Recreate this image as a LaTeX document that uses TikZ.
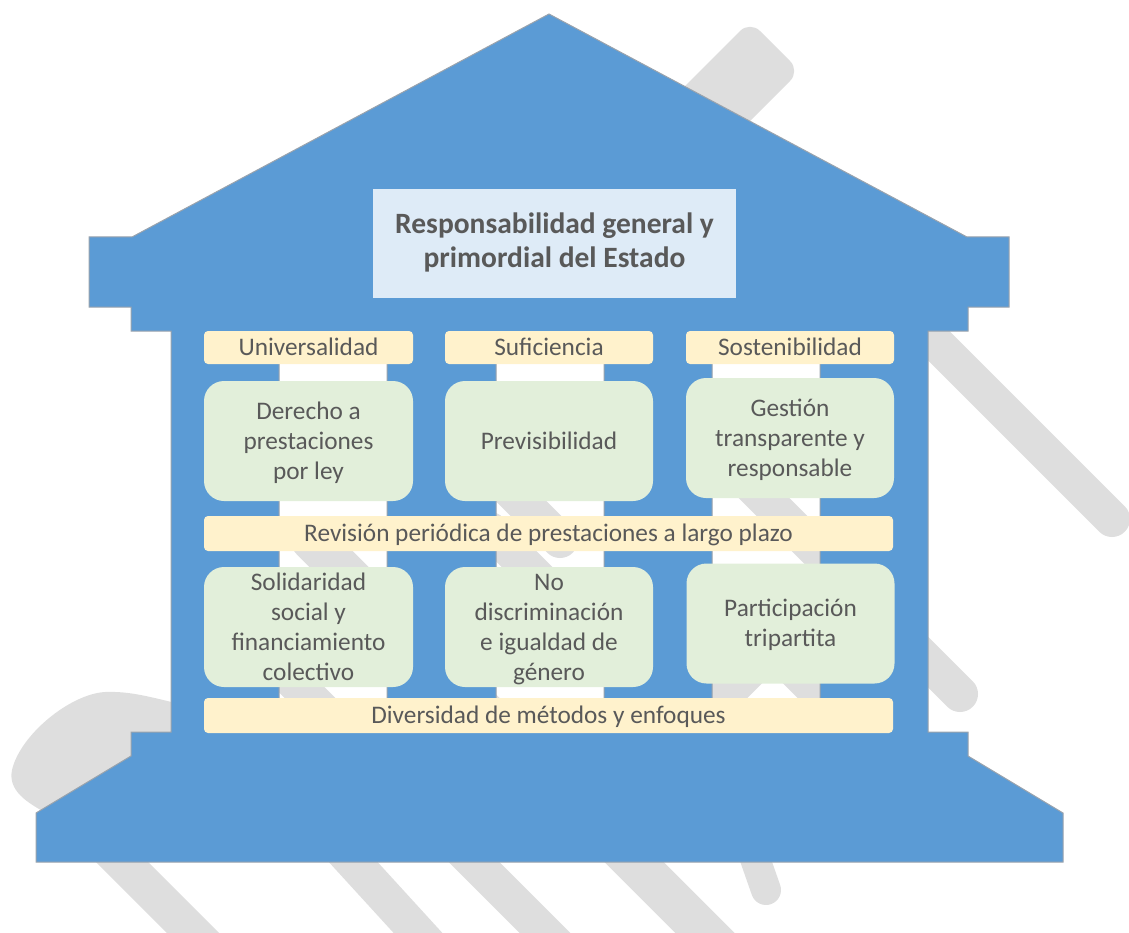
\documentclass[tikz,border=0pt]{standalone}
\usepackage{fontspec}
\setmainfont{Carlito}
\definecolor{bblue}{HTML}{5B9BD5}
\definecolor{bline}{HTML}{9AA3AD}
\definecolor{wmgray}{HTML}{DEDEDE}
\definecolor{ybarc}{HTML}{FFF2CC}
\definecolor{gboxc}{HTML}{E2EFDA}
\definecolor{tboxc}{HTML}{DEEBF7}
\definecolor{txt}{HTML}{595959}
\newcommand\mystrut{\rule[-7pt]{0pt}{30pt}}
\begin{document}
\begin{tikzpicture}[x=1pt,y=-1pt,
  wm/.style={draw=wmgray, line cap=round, line width=36pt},
  ybar/.style={fill=ybarc, rounded corners=4pt, inner sep=0pt, text=txt, font=\fontsize{25.3}{30}\selectfont},
  gbox/.style={fill=gboxc, rounded corners=20pt, inner sep=0pt, align=center, text=txt, font=\fontsize{25.3}{30}\selectfont, minimum height=120pt},
  tbox/.style={fill=tboxc, inner sep=0pt, align=center, text=txt, font=\bfseries\fontsize{29.5}{34}\selectfont}
]
\useasboundingbox (0,0) rectangle (1129,933);
% watermark
\begin{scope}
\clip (0,0) rectangle (1129,933);
\fill[wmgray, rounded corners=14pt] (750,21) -- (800,71) -- (659,212) -- (609,162) -- cycle;
\draw[wm] (880,287) -- (1112,519);
\draw[wm] (700,434) -- (960,694);
\draw[wm, line width=42pt] (312,540) -- (770,998);
\draw[wm] (230,618) -- (600,988);
\draw[wm] (260,760) -- (450,968);
\draw[wm, line width=30pt] (752,850) -- (766,890);
\fill[wmgray] (200,745) -- (180,704) .. controls (150,697) and (130,691) .. (105,692)
  .. controls (70,694) and (20,735) .. (12,770) .. controls (8,790) and (25,802) .. (50,815)
  -- (80,845) -- (140,845) -- cycle;
\draw[wm, line width=37pt] (60,800) -- (300,1040);
\draw[wm] (500,480) -- (560,540);
\draw[wm] (490,530) -- (540,580);
\draw[wm] (700,720) -- (760,660);
\draw[wm] (780,655) -- (840,715);
\end{scope}
% building
\path[fill=bblue, draw=bline, line width=1pt, even odd rule]
  (549,14) -- (967,237) -- (1009,237) -- (1009,307) -- (968,307) -- (968,331) -- (928,331)
  -- (928,732) -- (968,732) -- (968,756) -- (1063,813) -- (1063,862) -- (36,862) -- (36,813)
  -- (131,756) -- (131,732) -- (171,732) -- (171,331) -- (131,331) -- (131,307) -- (89,307)
  -- (89,237) -- (132,237) -- cycle
  (279,350) rectangle (387,720)
  (496,350) rectangle (604,720)
  (712,350) rectangle (820,720);
% title
\node[tbox, minimum width=363pt, minimum height=108pt] (t) at (554.5,243.5) {\strut Responsabilidad general y\\\strut primordial del Estado};
% headers
\node[ybar, minimum width=209pt, minimum height=33pt] (h1) at (308.5,347.5) {\mystrut Universalidad};
\node[ybar, minimum width=208pt, minimum height=33pt] (h2) at (549,347.5) {\mystrut Suficiencia};
\node[ybar, minimum width=208pt, minimum height=33pt] (h3) at (790,347.5) {\mystrut Sostenibilidad};
% row 1
\node[gbox, minimum width=209pt] (g1) at (308.5,441) {\mystrut Derecho a\\\mystrut prestaciones\\\mystrut por ley};
\node[gbox, minimum width=208pt] (g2) at (549,441) {\mystrut Previsibilidad};
\node[gbox, minimum width=208pt] (g3) at (790,438) {\mystrut Gestión\\\mystrut transparente y\\\mystrut responsable};
% middle bar
\node[ybar, minimum width=689pt, minimum height=35pt] (r) at (548.5,533.5) {\mystrut Revisión periódica de prestaciones a largo plazo};
% row 2
\node[gbox, minimum width=209pt] (g4) at (308.5,627) {\mystrut Solidaridad\\\mystrut social y\\\mystrut financiamiento\\\mystrut colectivo};
\node[gbox, minimum width=208pt] (g5) at (549,627) {\mystrut No\\\mystrut discriminación\\\mystrut e igualdad de\\\mystrut género};
\node[gbox, minimum width=208pt] (g6) at (790.5,623.5) {\mystrut Participación\\\mystrut tripartita};
% bottom bar
\node[ybar, minimum width=689pt, minimum height=35pt] (d) at (548.5,715.5) {\mystrut Diversidad de métodos y enfoques};
\end{tikzpicture}
\end{document}
